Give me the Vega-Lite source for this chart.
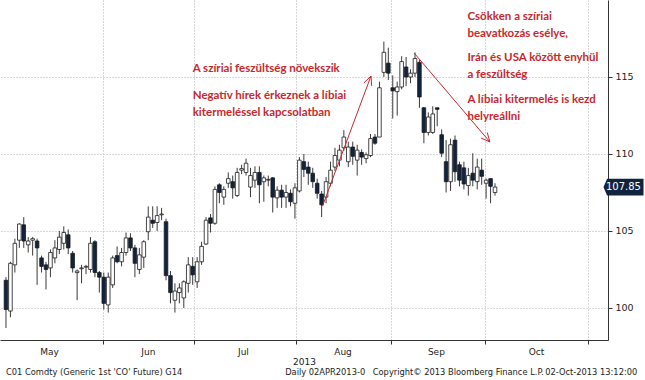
{
"$schema": "https://vega.github.io/schema/vega-lite/v6.json",
"width": 608, "height": 340,
"autosize": {"type": "none"},
"padding": {"left": 0, "top": 0, "right": 37, "bottom": 40},
"background": "white",
"config": {"view": {"stroke": null}, "font": "DejaVu Sans"},
"datasets": {
"candles": [
{"i":0,"o":101.8,"h":102.0,"l":98.7,"c":99.9},
{"i":1,"o":99.8,"h":103.0,"l":99.4,"c":102.9},
{"i":2,"o":102.8,"h":104.5,"l":102.3,"c":104.2},
{"i":3,"o":104.4,"h":105.5,"l":103.9,"c":105.45},
{"i":4,"o":105.4,"h":105.9,"l":103.9,"c":104.35},
{"i":5,"o":104.1,"h":104.6,"l":103.6,"c":104.35},
{"i":6,"o":104.4,"h":104.6,"l":103.4,"c":104.5},
{"i":7,"o":104.35,"h":104.5,"l":101.5,"c":103.9},
{"i":8,"o":103.25,"h":103.4,"l":102.3,"c":102.7},
{"i":9,"o":102.8,"h":103.0,"l":101.2,"c":102.5},
{"i":10,"o":102.6,"h":103.8,"l":102.0,"c":103.6},
{"i":11,"o":103.25,"h":104.4,"l":102.9,"c":103.9},
{"i":12,"o":103.8,"h":105.0,"l":103.5,"c":104.6},
{"i":13,"o":104.2,"h":105.3,"l":103.8,"c":104.9},
{"i":14,"o":104.75,"h":105.1,"l":103.5,"c":103.9},
{"i":15,"o":103.55,"h":103.7,"l":102.3,"c":102.6},
{"i":16,"o":102.3,"h":102.5,"l":100.5,"c":102.4},
{"i":17,"o":102.55,"h":102.8,"l":101.6,"c":102.6},
{"i":18,"o":102.65,"h":102.8,"l":102.2,"c":102.7},
{"i":19,"o":102.5,"h":104.6,"l":102.3,"c":104.2},
{"i":20,"o":104.3,"h":104.4,"l":102.0,"c":102.3},
{"i":21,"o":102.3,"h":102.4,"l":101.0,"c":102.0},
{"i":22,"o":102.0,"h":102.3,"l":99.9,"c":100.3},
{"i":23,"o":100.2,"h":102.3,"l":99.7,"c":102.0},
{"i":24,"o":101.5,"h":103.4,"l":101.3,"c":103.25},
{"i":25,"o":103.4,"h":104.0,"l":102.9,"c":103.0},
{"i":26,"o":103.0,"h":103.9,"l":102.7,"c":103.6},
{"i":27,"o":103.6,"h":104.9,"l":103.4,"c":104.55},
{"i":28,"o":104.55,"h":104.85,"l":103.7,"c":103.9},
{"i":29,"o":103.9,"h":104.1,"l":102.0,"c":102.9},
{"i":30,"o":102.5,"h":103.9,"l":102.2,"c":103.45},
{"i":31,"o":103.3,"h":104.4,"l":102.6,"c":104.3},
{"i":32,"o":104.95,"h":106.6,"l":104.4,"c":105.9},
{"i":33,"o":105.7,"h":106.6,"l":105.2,"c":105.5},
{"i":34,"o":105.55,"h":106.6,"l":105.0,"c":106.0},
{"i":35,"o":106.05,"h":106.5,"l":105.7,"c":106.1},
{"i":36,"o":105.6,"h":105.8,"l":101.8,"c":102.1},
{"i":37,"o":102.1,"h":102.4,"l":100.3,"c":101.0},
{"i":38,"o":100.5,"h":101.6,"l":99.7,"c":101.1},
{"i":39,"o":101.0,"h":101.6,"l":100.3,"c":101.3},
{"i":40,"o":100.65,"h":101.8,"l":100.0,"c":101.7},
{"i":41,"o":101.6,"h":103.3,"l":101.0,"c":102.8},
{"i":42,"o":102.7,"h":103.3,"l":101.5,"c":102.15},
{"i":43,"o":101.7,"h":103.3,"l":101.3,"c":103.0},
{"i":44,"o":103.0,"h":104.3,"l":102.8,"c":104.0},
{"i":45,"o":104.15,"h":105.9,"l":104.1,"c":105.7},
{"i":46,"o":105.85,"h":106.1,"l":104.9,"c":105.5},
{"i":47,"o":105.5,"h":107.9,"l":105.4,"c":107.7},
{"i":48,"o":108.0,"h":108.1,"l":106.8,"c":107.5},
{"i":49,"o":107.2,"h":107.9,"l":106.7,"c":107.7},
{"i":50,"o":108.1,"h":108.8,"l":107.8,"c":108.4},
{"i":51,"o":108.2,"h":108.6,"l":107.1,"c":107.8},
{"i":52,"o":107.3,"h":109.1,"l":107.2,"c":108.8},
{"i":53,"o":108.95,"h":109.3,"l":108.7,"c":109.05},
{"i":54,"o":108.8,"h":109.7,"l":108.6,"c":109.4},
{"i":55,"o":107.85,"h":109.1,"l":107.2,"c":108.6},
{"i":56,"o":108.3,"h":109.2,"l":107.8,"c":108.8},
{"i":57,"o":108.8,"h":109.2,"l":106.8,"c":108.0},
{"i":58,"o":108.2,"h":108.6,"l":106.9,"c":108.45},
{"i":59,"o":108.3,"h":108.6,"l":107.9,"c":108.35},
{"i":60,"o":108.45,"h":108.5,"l":106.2,"c":107.2},
{"i":61,"o":107.15,"h":107.9,"l":106.5,"c":107.65},
{"i":62,"o":107.65,"h":108.0,"l":106.5,"c":107.2},
{"i":63,"o":107.2,"h":108.0,"l":106.5,"c":107.5},
{"i":64,"o":107.45,"h":107.7,"l":106.6,"c":106.9},
{"i":65,"o":106.8,"h":108.1,"l":105.8,"c":107.8},
{"i":66,"o":107.6,"h":109.8,"l":107.5,"c":109.6},
{"i":67,"o":109.5,"h":110.0,"l":108.5,"c":109.0},
{"i":68,"o":109.15,"h":109.5,"l":108.0,"c":108.75},
{"i":69,"o":108.75,"h":109.1,"l":107.8,"c":108.2},
{"i":70,"o":108.1,"h":108.4,"l":107.1,"c":107.45},
{"i":71,"o":107.4,"h":107.6,"l":105.9,"c":106.7},
{"i":72,"o":107.2,"h":108.5,"l":106.8,"c":108.2},
{"i":73,"o":108.1,"h":109.5,"l":107.9,"c":108.95},
{"i":74,"o":109.15,"h":110.4,"l":108.9,"c":109.9},
{"i":75,"o":109.6,"h":110.6,"l":109.2,"c":110.25},
{"i":76,"o":110.4,"h":111.55,"l":110.2,"c":111.1},
{"i":77,"o":109.5,"h":110.8,"l":109.15,"c":110.45},
{"i":78,"o":110.45,"h":110.8,"l":109.3,"c":109.85},
{"i":79,"o":109.6,"h":110.6,"l":108.6,"c":110.25},
{"i":80,"o":110.1,"h":110.3,"l":109.3,"c":109.8},
{"i":81,"o":109.7,"h":110.1,"l":109.4,"c":109.95},
{"i":82,"o":109.9,"h":111.3,"l":109.8,"c":111.0},
{"i":83,"o":111.1,"h":111.3,"l":110.6,"c":110.7},
{"i":84,"o":111.1,"h":114.7,"l":111.1,"c":114.3},
{"i":85,"o":115.3,"h":117.3,"l":115.0,"c":116.6},
{"i":86,"o":115.9,"h":116.9,"l":114.8,"c":115.25},
{"i":87,"o":114.3,"h":115.1,"l":112.3,"c":114.1},
{"i":88,"o":114.05,"h":114.7,"l":112.5,"c":114.35},
{"i":89,"o":114.35,"h":116.35,"l":114.2,"c":116.0},
{"i":90,"o":115.65,"h":116.3,"l":114.4,"c":115.0},
{"i":91,"o":115.0,"h":115.5,"l":114.6,"c":115.25},
{"i":92,"o":115.25,"h":116.6,"l":115.0,"c":116.2},
{"i":93,"o":115.95,"h":116.1,"l":113.0,"c":113.7},
{"i":94,"o":113.0,"h":113.05,"l":110.7,"c":111.4},
{"i":95,"o":111.4,"h":112.7,"l":111.2,"c":112.4},
{"i":96,"o":111.4,"h":113.1,"l":111.3,"c":112.6},
{"i":97,"o":113.0,"h":113.0,"l":111.8,"c":112.9},
{"i":98,"o":111.25,"h":111.6,"l":109.8,"c":110.05},
{"i":99,"o":109.5,"h":110.9,"l":107.5,"c":108.2},
{"i":100,"o":108.2,"h":111.0,"l":107.6,"c":110.6},
{"i":101,"o":110.9,"h":111.2,"l":108.2,"c":108.85},
{"i":102,"o":109.3,"h":109.5,"l":107.9,"c":108.3},
{"i":103,"o":109.1,"h":109.5,"l":107.7,"c":108.05},
{"i":104,"o":107.95,"h":109.1,"l":107.3,"c":108.6},
{"i":105,"o":108.75,"h":110.05,"l":107.9,"c":108.3},
{"i":106,"o":108.2,"h":109.7,"l":107.7,"c":109.15},
{"i":107,"o":108.95,"h":109.7,"l":108.0,"c":108.55},
{"i":108,"o":108.1,"h":108.4,"l":107.1,"c":108.3},
{"i":109,"o":108.4,"h":108.4,"l":106.8,"c":107.9},
{"i":110,"o":107.5,"h":108.1,"l":107.3,"c":107.85}
],
"arrows": [
{"x1":71.2,"y1":106.62,"x2":82.1,"y2":115.06},
{"x1":80.5,"y1":114.61,"x2":82.1,"y2":115.06},
{"x1":82.25,"y1":114.42,"x2":82.1,"y2":115.06},
{"x1":91.8,"y1":116.56,"x2":108.85,"y2":110.78},
{"x1":108.25,"y1":111.40,"x2":108.85,"y2":110.78},
{"x1":106.83,"y1":111.04,"x2":108.85,"y2":110.78}
],
"notes": [
{"x":42.0,"y":115.52,"t":"A szíriai feszültség növekszik"},
{"x":42.0,"y":113.77,"t":"Negatív hírek érkeznek a líbiai"},
{"x":42.0,"y":112.67,"t":"kitermeléssel kapcsolatban"},
{"x":103.8,"y":118.90,"t":"Csökken a szíriai"},
{"x":103.8,"y":117.80,"t":"beavatkozás esélye,"},
{"x":103.8,"y":116.23,"t":"Irán és USA között enyhül"},
{"x":103.8,"y":115.13,"t":"a feszültség"},
{"x":103.8,"y":113.51,"t":"A líbiai kitermelés is kezd"},
{"x":103.8,"y":112.41,"t":"helyreállni"}
],
"footerLeft": [
{"x":0.0,"y":95.78,"t":"C01 Comdty (Generic 1st 'CO' Future) G14"},
{"x":62.8,"y":95.78,"t":"Daily 02APR2013-0"},
{"x":82.5,"y":95.78,"t":"Copyright© 2013 Bloomberg Finance L.P."}
],
"footerRight": [
{"x":142.0,"y":95.78,"t":"02-Oct-2013 13:12:00"}
],
"last": [{"i":138.9,"p":107.85,"t":"107.85"}]
},
"layer": [
{
"data": {"name": "candles"},
"mark": {"type": "rule", "color": "#3a3a3a", "strokeWidth": 1, "clip": true},
"encoding": {
"x": {"field": "i", "type": "quantitative",
"scale": {"domain": [-0.22, 134.29], "nice": false, "zero": false},
"axis": {
"values": [9.7, 21.9, 31.9, 42.3, 53.3, 65.3, 75.7, 86.7, 96.7, 107.7, 119.2, 131],
"labelExpr": "datum.value == 9.7 ? 'May' : datum.value == 31.9 ? 'Jun' : datum.value == 53.3 ? 'Jul' : datum.value == 75.7 ? 'Aug' : datum.value == 96.7 ? 'Sep' : datum.value == 119.2 ? 'Oct' : ''",
"grid": true, "gridColor": "#b0b0b0", "gridDash": [1, 2], "gridWidth": 1,
"gridOpacity": {"condition": {"test": "indexof([21.9,42.3,65.3,86.7,107.7,131], datum.value) >= 0", "value": 1}, "value": 0},
"tickOpacity": {"condition": {"test": "indexof([21.9,42.3,65.3,86.7,107.7,131], datum.value) >= 0", "value": 1}, "value": 0},
"tickSize": 4, "tickColor": "#333333", "domainColor": "#333333",
"labelFont": "DejaVu Sans", "labelFontSize": 9, "labelColor": "#222222", "labelPadding": 3,
"labelFlush": false, "labelOverlap": false,
"title": "2013", "titleFont": "DejaVu Sans", "titleFontSize": 9, "titleFontWeight": "normal", "titleColor": "#222222", "titlePadding": 1
}},
"y": {"field": "l", "type": "quantitative",
"scale": {"domain": [97.92, 120.0], "nice": false, "zero": false},
"axis": {
"orient": "right", "values": [100, 105, 110, 115], "title": null,
"grid": true, "gridColor": "#b0b0b0", "gridDash": [1, 2], "gridWidth": 1,
"tickSize": 4, "tickColor": "#333333", "domainColor": "#333333",
"labelFont": "DejaVu Sans", "labelFontSize": 9.5, "labelColor": "#222222", "labelPadding": 3
}},
"y2": {"field": "h"}
}
},
{
"data": {"name": "candles"},
"mark": {"type": "bar", "width": 3.6, "stroke": "#1a1a1a", "strokeWidth": 0.8, "clip": true},
"encoding": {
"x": {"field": "i", "type": "quantitative"},
"y": {"field": "o", "type": "quantitative"},
"y2": {"field": "c"},
"fill": {"condition": {"test": "datum.c > datum.o", "value": "#ffffff"}, "value": "#10233f"}
}
},
{
"data": {"name": "arrows"},
"mark": {"type": "rule", "color": "#c8282d", "strokeWidth": 1},
"encoding": {
"x": {"field": "x1", "type": "quantitative"},
"y": {"field": "y1", "type": "quantitative"},
"x2": {"field": "x2"},
"y2": {"field": "y2"}
}
},
{
"data": {"name": "notes"},
"mark": {"type": "text", "align": "left", "baseline": "middle", "font": "Lato", "fontWeight": "bold", "fontSize": 11.5, "color": "#c8282d"},
"encoding": {
"x": {"field": "x", "type": "quantitative"},
"y": {"field": "y", "type": "quantitative"},
"text": {"field": "t"}
}
},
{
"data": {"name": "last"},
"mark": {"type": "point", "shape": "M-1,0L-0.82,-0.42L1,-0.42L1,0.42L-0.82,0.42Z", "size": 1600, "filled": true, "color": "#10233f", "opacity": 1},
"encoding": {
"x": {"field": "i", "type": "quantitative"},
"y": {"field": "p", "type": "quantitative"}
}
},
{
"data": {"name": "last"},
"mark": {"type": "text", "align": "center", "baseline": "middle", "font": "DejaVu Sans", "fontSize": 10, "color": "#ffffff"},
"encoding": {
"x": {"field": "i", "type": "quantitative"},
"y": {"field": "p", "type": "quantitative"},
"text": {"field": "t"}
}
},
{
"data": {"name": "footerLeft"},
"mark": {"type": "text", "align": "left", "baseline": "middle", "font": "DejaVu Sans", "fontSize": 8.3, "color": "#222222"},
"encoding": {
"x": {"field": "x", "type": "quantitative"},
"y": {"field": "y", "type": "quantitative"},
"text": {"field": "t"}
}
},
{
"data": {"name": "footerRight"},
"mark": {"type": "text", "align": "right", "baseline": "middle", "font": "DejaVu Sans", "fontSize": 8.3, "color": "#222222"},
"encoding": {
"x": {"field": "x", "type": "quantitative"},
"y": {"field": "y", "type": "quantitative"},
"text": {"field": "t"}
}
}
]
}
